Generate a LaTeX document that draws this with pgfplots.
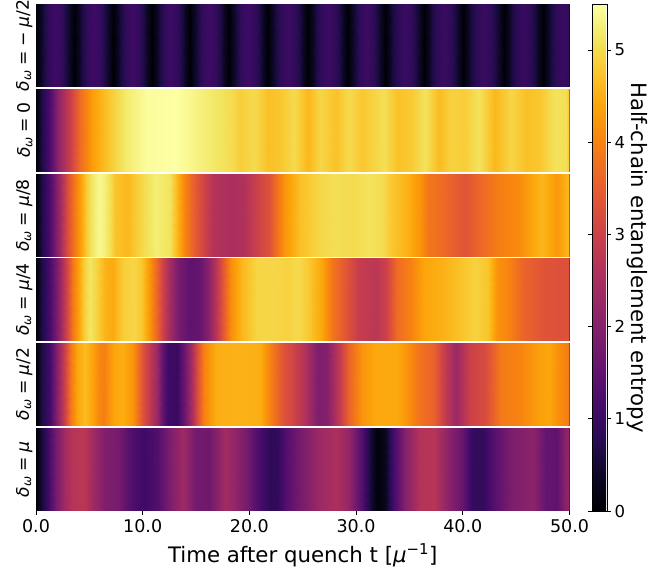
\documentclass[border=0pt]{standalone}
\usepackage{fontspec}
\setmainfont{DejaVu Sans}
\usepackage{pgfplots}
\usepackage{pgfplotstable}
\pgfplotsset{compat=1.18}
\pgfplotstableread{
t c
0 0.02
0.35 0.28
0.75 0.62
1.2 0.9
1.8 1.05
2.4 0.9
2.85 0.62
3.25 0.28
3.6 0.02
3.95 0.28
4.35 0.62
4.8 0.9
5.4 1.05
6.05 0.9
6.5 0.62
6.9 0.28
7.25 0.02
7.6 0.28
8.0 0.62
8.45 0.9
9.05 1.05
9.65 0.9
10.1 0.62
10.5 0.28
10.85 0.02
11.2 0.28
11.6 0.62
12.05 0.9
12.6 1.05
13.2 0.9
13.65 0.62
14.05 0.28
14.4 0.02
14.75 0.28
15.15 0.62
15.6 0.9
16.2 1.05
16.85 0.9
17.3 0.62
17.7 0.28
18.05 0.02
18.4 0.28
18.8 0.62
19.25 0.9
19.9 1.05
20.5 0.9
20.95 0.62
21.35 0.28
21.7 0.02
22.05 0.28
22.45 0.62
22.95 0.88
23.6 1.02
24.25 0.88
24.75 0.62
25.15 0.28
25.5 0.02
25.85 0.28
26.25 0.62
26.75 0.88
27.35 1.02
28 0.88
28.45 0.62
28.85 0.28
29.2 0.02
29.55 0.28
29.95 0.62
30.4 0.88
31 1.02
31.55 0.88
32 0.62
32.4 0.28
32.75 0.02
33.1 0.28
33.5 0.62
34 0.86
34.6 1.0
35.2 0.86
35.65 0.62
36.05 0.28
36.4 0.02
36.75 0.28
37.15 0.62
37.6 0.86
38.2 1.0
38.85 0.86
39.3 0.62
39.7 0.28
40.05 0.02
40.4 0.28
40.8 0.6
41.3 0.85
42 1.0
42.65 0.85
43.15 0.6
43.55 0.28
43.9 0.02
44.25 0.28
44.65 0.6
45.1 0.84
45.7 0.98
46.3 0.84
46.75 0.6
47.15 0.28
47.5 0.02
47.85 0.28
48.25 0.6
48.7 0.84
49.3 0.98
50 0.9
}\rA
\pgfplotstableread{
t c
0 0
0.5 0.6
1.3 1.25
2.2 2.2
3.2 2.95
4.15 3.7
5.25 4.3
6.6 4.7
8.4 5.2
10.3 5.45
13.1 5.5
14.7 5.35
16.9 5.15
18.5 5.0
19.1 4.85
20.4 5.0
21.7 4.7
23.0 4.78
24.2 5.0
25.5 4.6
26.6 4.95
28.1 4.72
29.3 5.0
30.6 4.78
32.6 5.05
33.8 4.72
35.1 4.8
36.5 5.1
37.8 4.65
38.9 4.9
40.2 4.85
41.5 5.1
43.0 4.6
44.5 4.95
45.9 4.7
47.2 4.78
48.6 5.1
49.7 5.05
50 4.75
}\rB
\pgfplotstableread{
t c
0 0
0.48 0.6
1.28 1.25
2.23 2.35
2.9 3.2
3.5 3.75
4.3 4.45
4.7 4.8
5.15 5.1
5.6 5.3
6 5.38
6.5 5.25
6.9 5.05
7.4 4.75
8.5 4.6
10 5.0
11.25 5.25
12.6 5.1
13.2 4.6
14 4.0
15 3.4
16.6 2.65
18.2 2.5
19.45 2.6
20.7 3.0
21.8 3.3
23.2 4.2
24.75 4.7
26.5 4.95
28.1 5.05
29.7 5.0
31.25 5.1
32.5 5.0
33.5 4.75
34.8 4.55
36 4.2
36.7 3.85
38.3 3.65
40.2 3.35
41.45 3.6
43.4 3.95
45.3 4.1
46.5 4.4
47.4 4.6
48.8 4.25
49.7 4.55
50 4.6
}\rC
\pgfplotstableread{
t c
0 0
0.48 0.6
1.28 1.2
2.07 2.0
2.87 3.1
3.5 3.9
3.99 4.4
4.5 4.85
5.1 5.15
5.8 4.85
6.5 4.55
7.2 4.45
8.2 4.85
9.2 4.95
9.9 4.75
10.7 4.2
11.3 3.6
11.9 3.0
12.6 2.4
13.4 1.8
14.35 1.5
15.3 1.55
16.1 2.0
16.9 2.7
17.5 3.4
18.3 4.15
19.3 4.6
20.7 4.95
22.3 4.95
23.6 4.9
24.55 5.0
25.5 4.8
26.8 4.4
27.7 3.85
29 3.4
30.3 2.9
31.9 2.75
32.8 3.0
33.8 3.7
35.1 4.0
36.35 4.4
38.3 4.55
39.9 4.75
41.1 4.9
42.4 4.75
43.2 4.2
44.3 4.0
45.6 3.6
47.5 3.35
48.8 3.3
50 3.3
}\rD
\pgfplotstableread{
t c
0 0
0.48 0.6
1.28 1.15
1.9 1.9
2.6 2.9
3.3 3.9
3.83 4.4
4.6 4.65
5.26 4.4
5.9 4.05
6.4 3.95
7.33 4.4
8.2 4.5
9.1 4.2
10 3.3
10.7 2.8
11.3 2.3
11.8 1.6
12.4 1.05
13.2 0.98
14.1 1.8
14.6 2.5
15.06 3.2
15.7 4.0
16.9 4.5
19.1 4.55
21 4.5
21.9 4.0
23.2 3.3
24 3.1
25.2 2.6
26.4 1.9
27.3 2.0
28.4 2.8
29.3 3.6
30.6 4.2
31.9 4.45
33.8 4.45
34.8 4.2
35.7 3.85
37.3 3.55
38.4 2.8
39.4 2.3
40.7 3.0
42.1 3.2
43.6 3.9
45.3 4.0
47.2 4.35
48.15 4.4
49.1 4.1
50 3.9
}\rE
\pgfplotstableread{
t c
0 0
0.48 0.5
1.1 1.05
1.9 1.8
2.7 2.4
3.5 2.7
4.46 2.75
5.26 2.4
6.38 1.95
7.65 1.8
8.8 1.35
10 1.05
11.3 1.3
12.6 1.9
13.8 2.35
15 1.75
16.26 1.7
17.7 2.4
18.4 2.25
19.75 1.8
20.7 1.3
21.9 0.85
22.6 0.88
23.4 1.35
24.9 1.85
26.5 2.3
28.1 2.55
29.3 2.2
30.6 1.3
31.4 0.5
32 0.1
32.7 0.3
33.5 1.1
34.6 2.0
36 2.65
37.3 2.7
38.6 2.1
39.9 1.6
41 0.9
41.8 0.9
43 1.4
44.6 1.9
46.6 2.1
47.8 1.55
48.8 1.5
49.7 2.1
50 2.2
}\rF
\pgfplotstablevertcat{\dA}{\rA}\pgfplotstablevertcat{\dA}{\rA}
\pgfplotstablevertcat{\dB}{\rB}\pgfplotstablevertcat{\dB}{\rB}
\pgfplotstablevertcat{\dC}{\rC}\pgfplotstablevertcat{\dC}{\rC}
\pgfplotstablevertcat{\dD}{\rD}\pgfplotstablevertcat{\dD}{\rD}
\pgfplotstablevertcat{\dE}{\rE}\pgfplotstablevertcat{\dE}{\rE}
\pgfplotstablevertcat{\dF}{\rF}\pgfplotstablevertcat{\dF}{\rF}
\pgfplotsset{
  colormap={inferno}{HTML=(000004) HTML=(0B0724) HTML=(240C4F) HTML=(420A68) HTML=(5D126E) HTML=(781C6D) HTML=(932667) HTML=(AE305C) HTML=(C73E4C) HTML=(DD513A) HTML=(ED6925) HTML=(F8850F) HTML=(FCA50A) HTML=(FAC62D) HTML=(F2E661) HTML=(FCFFA4)}
}
\newcommand{\delw}{\textit{δ}\raisebox{-0.25ex}{\fontsize{12pt}{12pt}\selectfont\textit{ω}}\hspace{0.28em}=\hspace{0.28em}}
\newcommand{\strip}[4]{%
  \pgfplotstablegetrowsof{#2}%
  \pgfmathtruncatemacro\stripN{\pgfplotsretval}%
  \edef\doit{\noexpand\addplot[surf,shader=interp,mesh/cols=\stripN,point meta=\noexpand\thisrow{c}] table[x=t,y expr={\noexpand\coordindex<\stripN?#3:#4}] {\noexpand#1};}%
  \doit
  \draw[black,line width=0.8pt] (axis cs:50,#3)--(axis cs:50,#4);
}
\begin{document}
\begin{tikzpicture}
\useasboundingbox (0,0) rectangle (667pt,573pt);
\begin{axis}[
  at={(36pt,62pt)}, anchor=south west,
  scale only axis, width=533.5pt, height=507pt,
  xmin=0, xmax=50, ymin=0, ymax=507,
  colormap name=inferno,
  point meta min=0, point meta max=5.5,
  axis x line=bottom, axis y line=left,
  x axis line style={draw=none,-}, y axis line style={draw=none,-},
  tick align=outside,
  xtick={0,10,20,30,40,50},
  xticklabels={0.0,10.0,20.0,30.0,40.0,50.0},
  x tick style={black,line width=0.8pt},
  major tick length=4pt,
  xticklabel style={font=\fontsize{17.5pt}{17.5pt}\selectfont,yshift=-1pt},
  ytick={41.5,126.8,211.6,295.6,380.8,465.4},
  yticklabels={{\delw\textit{μ}},{\delw\textit{μ}/2},{\delw\textit{μ}/4},{\delw\textit{μ}/8},{\delw 0},{\delw−\hspace{0.28em}\textit{μ}/2}},
  y tick style={draw=none},
  yticklabel style={rotate=90,anchor=south,font=\fontsize{17.2pt}{17.2pt}\selectfont,yshift=-4pt},
  xlabel={Time after quench t [\textit{μ}\textsuperscript{−1}]},
  xlabel style={font=\fontsize{21.3pt}{21.3pt}\selectfont,yshift=-4pt},
  colorbar,
  colorbar style={
    at={(1.0422,0)}, anchor=south west,
    width=15pt,
    ytick={0,1,2,3,4,5},
    yticklabels={0,1,2,3,4,5},
    yticklabel style={font=\fontsize{16.5pt}{16.5pt}\selectfont},
    y tick style={black,line width=0.8pt},
    tick align=outside,
    major tick length=4pt,
    ylabel={Half-chain entanglement entropy},
    ylabel style={font=\fontsize{21.2pt}{21.2pt}\selectfont,rotate=180,yshift=-5pt},
    axis line style={black,line width=0.8pt},
  },
]
\strip{\dF}{\rF}{0}{83}
\strip{\dE}{\rE}{85.3}{168.3}
\strip{\dD}{\rD}{170.3}{253}
\strip{\dC}{\rC}{254}{337.3}
\strip{\dB}{\rB}{339.3}{422.2}
\strip{\dA}{\rA}{424.3}{507}
\end{axis}
\end{tikzpicture}
\end{document}
